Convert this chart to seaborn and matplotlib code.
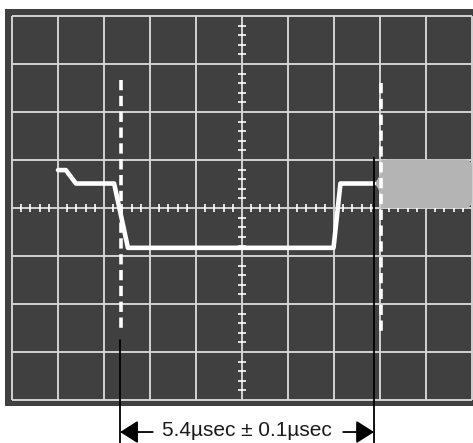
import numpy as np
import pandas as pd
import matplotlib.pyplot as plt
import seaborn as sns
from matplotlib.patches import FancyBboxPatch, Rectangle, Polygon

# trace data (screen divisions: x 0..10, y -4..4)
trace_x = [1.0, 1.17, 1.39, 2.22, 2.52, 6.99, 7.14, 7.87]
trace_y = [0.79, 0.79, 0.51, 0.51, -0.83, -0.83, 0.51, 0.51]

# cursor / marker positions
cursor_x = [2.36, 8.02]
cursor_top = [2.67, 2.6]
cursor_bottom = [-2.56, -2.6]
meas_x = [2.35, 7.87]
meas_top = [-2.75, 1.04]

# intensified (gray) region
blob_x = [8.02, 10.0]
blob_y = [0.0, 1.01]

label = "5.4\u00b5sec \u00b1 0.1\u00b5sec"

sns.set_style("dark", {"axes.facecolor": "#404040"})
plt.rcParams['font.family'] = ['Liberation Sans', 'DejaVu Sans']

fig = plt.figure(figsize=(4.73, 4.43), dpi=100)
ax = fig.add_axes([5/473, (443-406)/443, 468/473, 397/443])
ax.set_xlim(-7/46, 10 + 1/46)
ax.set_ylim(-4 - 6/48, 4 + 7/48)
ax.set_xticks([])
ax.set_yticks([])
for s in ax.spines.values():
    s.set_visible(False)

# graticule
grid_col = '#d2d2d2'
ax.vlines(range(11), -4, 4, color=grid_col, lw=1.4, zorder=1)
ax.hlines(range(-4, 5), 0, 10, color=grid_col, lw=1.4, zorder=1)

# minor ticks on center axes
tx = [t for t in np.arange(0, 10.01, 0.2) if abs(t - round(t)) > 0.01]
ty = [t for t in np.arange(-4, 4.01, 0.2) if abs(t - round(t)) > 0.01]
ax.vlines(tx, -0.09, 0.09, color='white', lw=1.2, zorder=1)
ax.hlines(ty, 5 - 0.09, 5 + 0.09, color='white', lw=1.2, zorder=1)

# intensified region
x0, x1 = blob_x
y0, y1 = blob_y
ax.add_patch(FancyBboxPatch((x0, y0), x1 - x0, y1 - y0,
                            boxstyle="round,pad=0,rounding_size=0.16",
                            fc='#b4b4b4', ec='none', zorder=2))
ax.add_patch(Rectangle((x0, y0), 0.5, y1 - y0, fc='#b4b4b4', ec='none', zorder=2))
ax.add_patch(Polygon([(x0, 0.3), (x0 - 0.13, 0.51), (x0, 0.72)],
                     closed=True, fc='#b4b4b4', ec='none', zorder=2))

# trace
df = pd.DataFrame({'x': trace_x, 'y': trace_y})
sns.lineplot(data=df, x='x', y='y', sort=False, estimator=None,
             color='white', lw=3.3, ax=ax, zorder=3)
ax.set_xlabel('')
ax.set_ylabel('')

# dashed cursors
lw_d = 2.6
for cx, ct, cb in zip(cursor_x, cursor_top, cursor_bottom):
    ax.plot([cx, cx], [ct, cb], color='white', lw=lw_d,
            dashes=(7.4 / lw_d, 4.0 / lw_d), zorder=4)

# measurement lines and arrows
for mx, mt in zip(meas_x, meas_top):
    ax.plot([mx, mx], [mt, -5.0], color='black', lw=1.3, zorder=5, clip_on=False)

arrow_y = -4.667
mid = 5.11
ax.text(mid, arrow_y + 0.03, label, ha='center', va='center', fontsize=15,
        color='#1a1a1a', clip_on=False)
ap = dict(arrowstyle='-|>,head_length=1.1,head_width=0.7', mutation_scale=10,
          color='black', lw=1.3, shrinkA=0, shrinkB=0)
ax.annotate('', xy=(meas_x[0], arrow_y), xytext=(3.06, arrow_y),
            arrowprops=ap, annotation_clip=False)
ax.annotate('', xy=(meas_x[1], arrow_y), xytext=(7.2, arrow_y),
            arrowprops=ap, annotation_clip=False)

fig.savefig('out.png', dpi=100)
